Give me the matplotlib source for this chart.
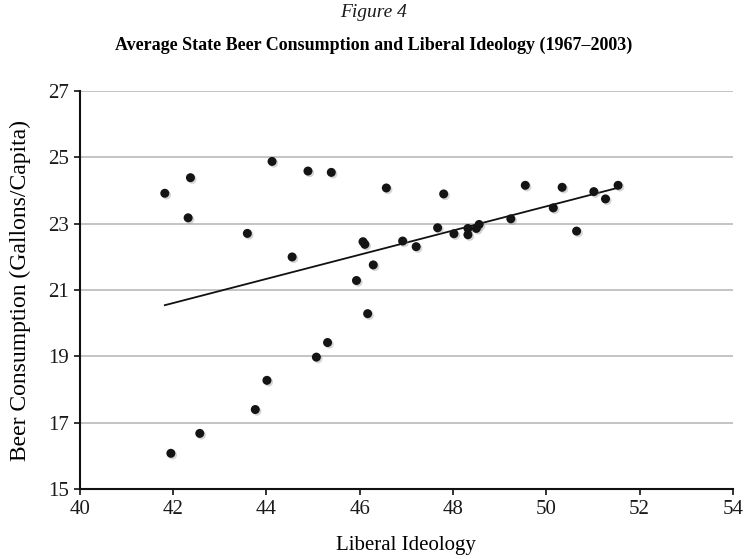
import numpy as np
import matplotlib
matplotlib.use("Agg")
import matplotlib.pyplot as plt
import matplotlib.patheffects as pe

# state averages, 1967-2003
liberal_ideology = [
    41.82, 42.37, 42.32, 44.12, 44.89, 45.39, 46.57, 43.59, 44.55, 46.07,
    46.11, 46.29, 45.93, 46.17, 45.31, 45.07, 44.01, 43.76, 42.57, 41.95,
    46.92, 47.21, 47.67, 47.80, 48.02, 48.32, 48.32, 48.50, 48.56, 49.24,
    49.55, 50.15, 50.34, 50.65, 51.02, 51.27, 51.54,
]
beer_consumption = [
    23.92, 24.39, 23.18, 24.88, 24.59, 24.55, 24.08, 22.71, 22.00, 22.46,
    22.38, 21.76, 21.29, 20.29, 19.42, 18.98, 18.28, 17.40, 16.68, 16.08,
    22.48, 22.31, 22.88, 23.90, 22.70, 22.86, 22.67, 22.86, 22.98, 23.15,
    24.16, 23.48, 24.10, 22.78, 23.97, 23.75, 24.16,
]
x_ticks = [40, 42, 44, 46, 48, 50, 52, 54]
y_ticks = [15, 17, 19, 21, 23, 25, 27]

plt.rcParams['font.family'] = ['Liberation Serif', 'DejaVu Serif']
plt.rcParams['text.color'] = '#1a1a1a'

fig = plt.figure(figsize=(7.47, 5.59), dpi=100)
ax = fig.add_axes([0.107, 0.125, 0.874, 0.712])

x = np.array(liberal_ideology)
y = np.array(beer_consumption)

for yt in y_ticks[1:]:
    ax.axhline(yt, color='#b4b4b4', lw=1.1, zorder=0)

shadow = [pe.SimplePatchShadow(offset=(1.2, -1.2), shadow_rgbFace='#888888', alpha=0.35), pe.Normal()]
ax.scatter(x, y, s=42, color='#141414', zorder=3, linewidths=0, path_effects=shadow)

# linear trend line
slope, intercept = np.polyfit(x, y, 1)
xs = np.array([x.min(), x.max()])
ax.plot(xs, slope * xs + intercept, color='#111111', lw=1.3, zorder=2)

ax.set_xlim(40, 54)
ax.set_ylim(15, 27)
ax.set_xticks(x_ticks)
ax.set_yticks(y_ticks)
ax.tick_params(labelsize=15, length=4, width=1.2, color='#111111', labelcolor='#1a1a1a', pad=4)
for side in ['top', 'right']:
    ax.spines[side].set_visible(False)
for side in ['left', 'bottom']:
    ax.spines[side].set_linewidth(1.5)
    ax.spines[side].set_color('#111111')

ax.set_xlabel('Liberal Ideology', fontsize=15, labelpad=12)
ax.set_ylabel('Beer Consumption (Gallons/Capita)', fontsize=17, labelpad=12)

fig.text(0.5, 0.977, 'Figure 4', ha='center', va='center', fontsize=14, style='italic')
fig.text(0.5, 0.919, 'Average State Beer Consumption and Liberal Ideology (1967\u20132003)',
         ha='center', va='center', fontsize=13, weight='bold', color='#000000')

fig.savefig('out.png', dpi=100)
